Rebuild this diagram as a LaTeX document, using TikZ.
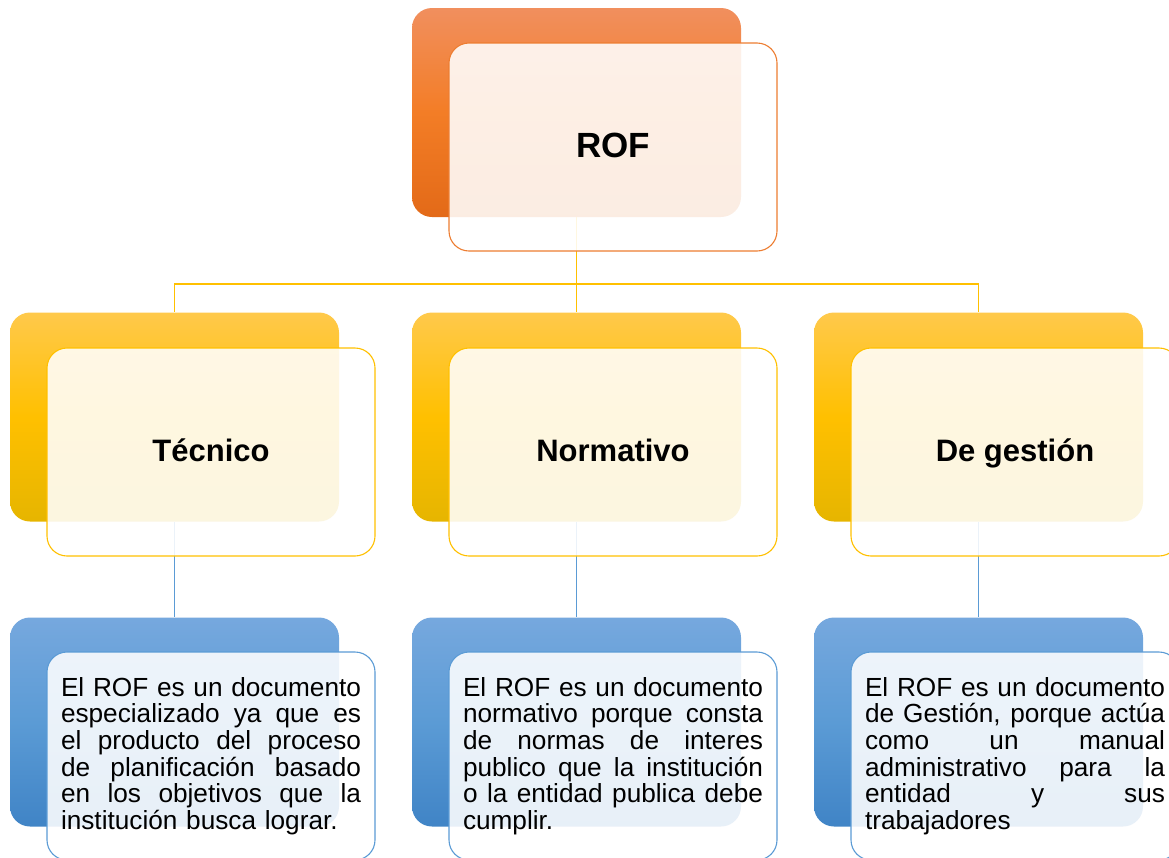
\documentclass[tikz,border=0pt]{standalone}
\usepackage{fontspec}
\setmainfont{Liberation Sans}
\usetikzlibrary{positioning}
\definecolor{orangeA}{RGB}{241,143,94}
\definecolor{orangeB}{RGB}{243,125,38}
\definecolor{orangeC}{RGB}{227,106,24}
\definecolor{orangeline}{RGB}{237,125,49}
\definecolor{goldA}{RGB}{255,201,75}
\definecolor{goldB}{RGB}{255,192,0}
\definecolor{goldC}{RGB}{230,181,0}
\definecolor{goldline}{RGB}{255,192,0}
\definecolor{blueA}{RGB}{118,168,222}
\definecolor{blueB}{RGB}{91,155,213}
\definecolor{blueC}{RGB}{64,132,198}
\definecolor{blueline}{RGB}{91,155,213}
\newcommand{\justline}[1]{\makebox[\linewidth][s]{\spaceskip=0.278em plus 1fil\relax #1}}
\tikzset{
	back/.style={
		rectangle,
		rounded corners=20pt,
		minimum width=329pt,
		minimum height=209pt,
		inner sep=0
	},
	orangeback/.style={back, top color=orangeA, bottom color=orangeC, middle color=orangeB},
	goldback/.style={back, top color=goldA, bottom color=goldC, middle color=goldB},
	blueback/.style={back, top color=blueA, bottom color=blueC, middle color=blueB},
	front/.style={
		rectangle,
		rounded corners=20pt,
		minimum width=328pt,
		minimum height=208pt,
		inner sep=0,
		fill=white,
		fill opacity=0.88,
		text opacity=1,
		line width=1.1pt
	},
	title/.style={font={\bfseries\fontsize{31}{31}\selectfont}, text height=22pt, text depth=4pt},
	body/.style={text width=300pt, align=left, font={\fontsize{26.2}{26.6}\selectfont}},
	link/.style={line width=1.3pt}
}

\begin{document}
\begin{tikzpicture}[x=1pt, y=-1pt]
		\useasboundingbox (0,0) rectangle (1169,857);
		% back boxes
		\node[orangeback] (rofb) at (576.5,112.5) {};
		\node[goldback] (tecb) at (174.5,417) {};
		\node[goldback] (normb) at (576.5,417) {};
		\node[goldback] (gestb) at (978.5,417) {};
		\node[blueback] (tecdefb) at (174.5,722) {};
		\node[blueback] (normdefb) at (576.5,722) {};
		\node[blueback] (gestdefb) at (978.5,722) {};
		
		\coordinate (split) at (576.5,284);
		\draw[link, goldline] (rofb.south) -- (normb.north);
		\draw[link, goldline] (split) -| (tecb.north);
		\draw[link, goldline] (split) -| (gestb.north);
		\draw[link, blueline] (tecb.south) -- (tecdefb.north);
		\draw[link, blueline] (normb.south) -- (normdefb.north);
		\draw[link, blueline] (gestb.south) -- (gestdefb.north);
		
		% front boxes
		\node[front, draw=orangeline, title, font={\bfseries\fontsize{35}{35}\selectfont}, text height=25pt] (rof) at (613,147) {ROF};
		\node[front, draw=goldline, title] (tec) at (211,452) {Técnico};
		\node[front, draw=goldline, title] (norm) at (613,452) {Normativo};
		\node[front, draw=goldline, title] (gest) at (1015,452) {De gestión};
		
		\node[front, draw=blueline, body] (tecdef) at (211,756) {%
			\justline{El ROF es un documento}\\
			\justline{especializado ya que es}\\
			\justline{el producto del proceso}\\
			\justline{de planificación basado}\\
			\justline{en los objetivos que la}\\
			institución busca lograr.};
		\node[front, draw=blueline, body] (normdef) at (613,756) {%
			\justline{El ROF es un documento}\\
			\justline{normativo porque consta}\\
			\justline{de normas de interes}\\
			\justline{publico que la institución}\\
			\justline{o la entidad publica debe}\\
			cumplir.};
		\node[front, draw=blueline, body] (gestdef) at (1015,756) {%
			\justline{El ROF es un documento}\\
			\justline{de Gestión, porque actúa}\\
			\justline{como un manual}\\
			\justline{administrativo para la}\\
			\justline{entidad y sus}\\
			trabajadores};
\end{tikzpicture}
\end{document}
